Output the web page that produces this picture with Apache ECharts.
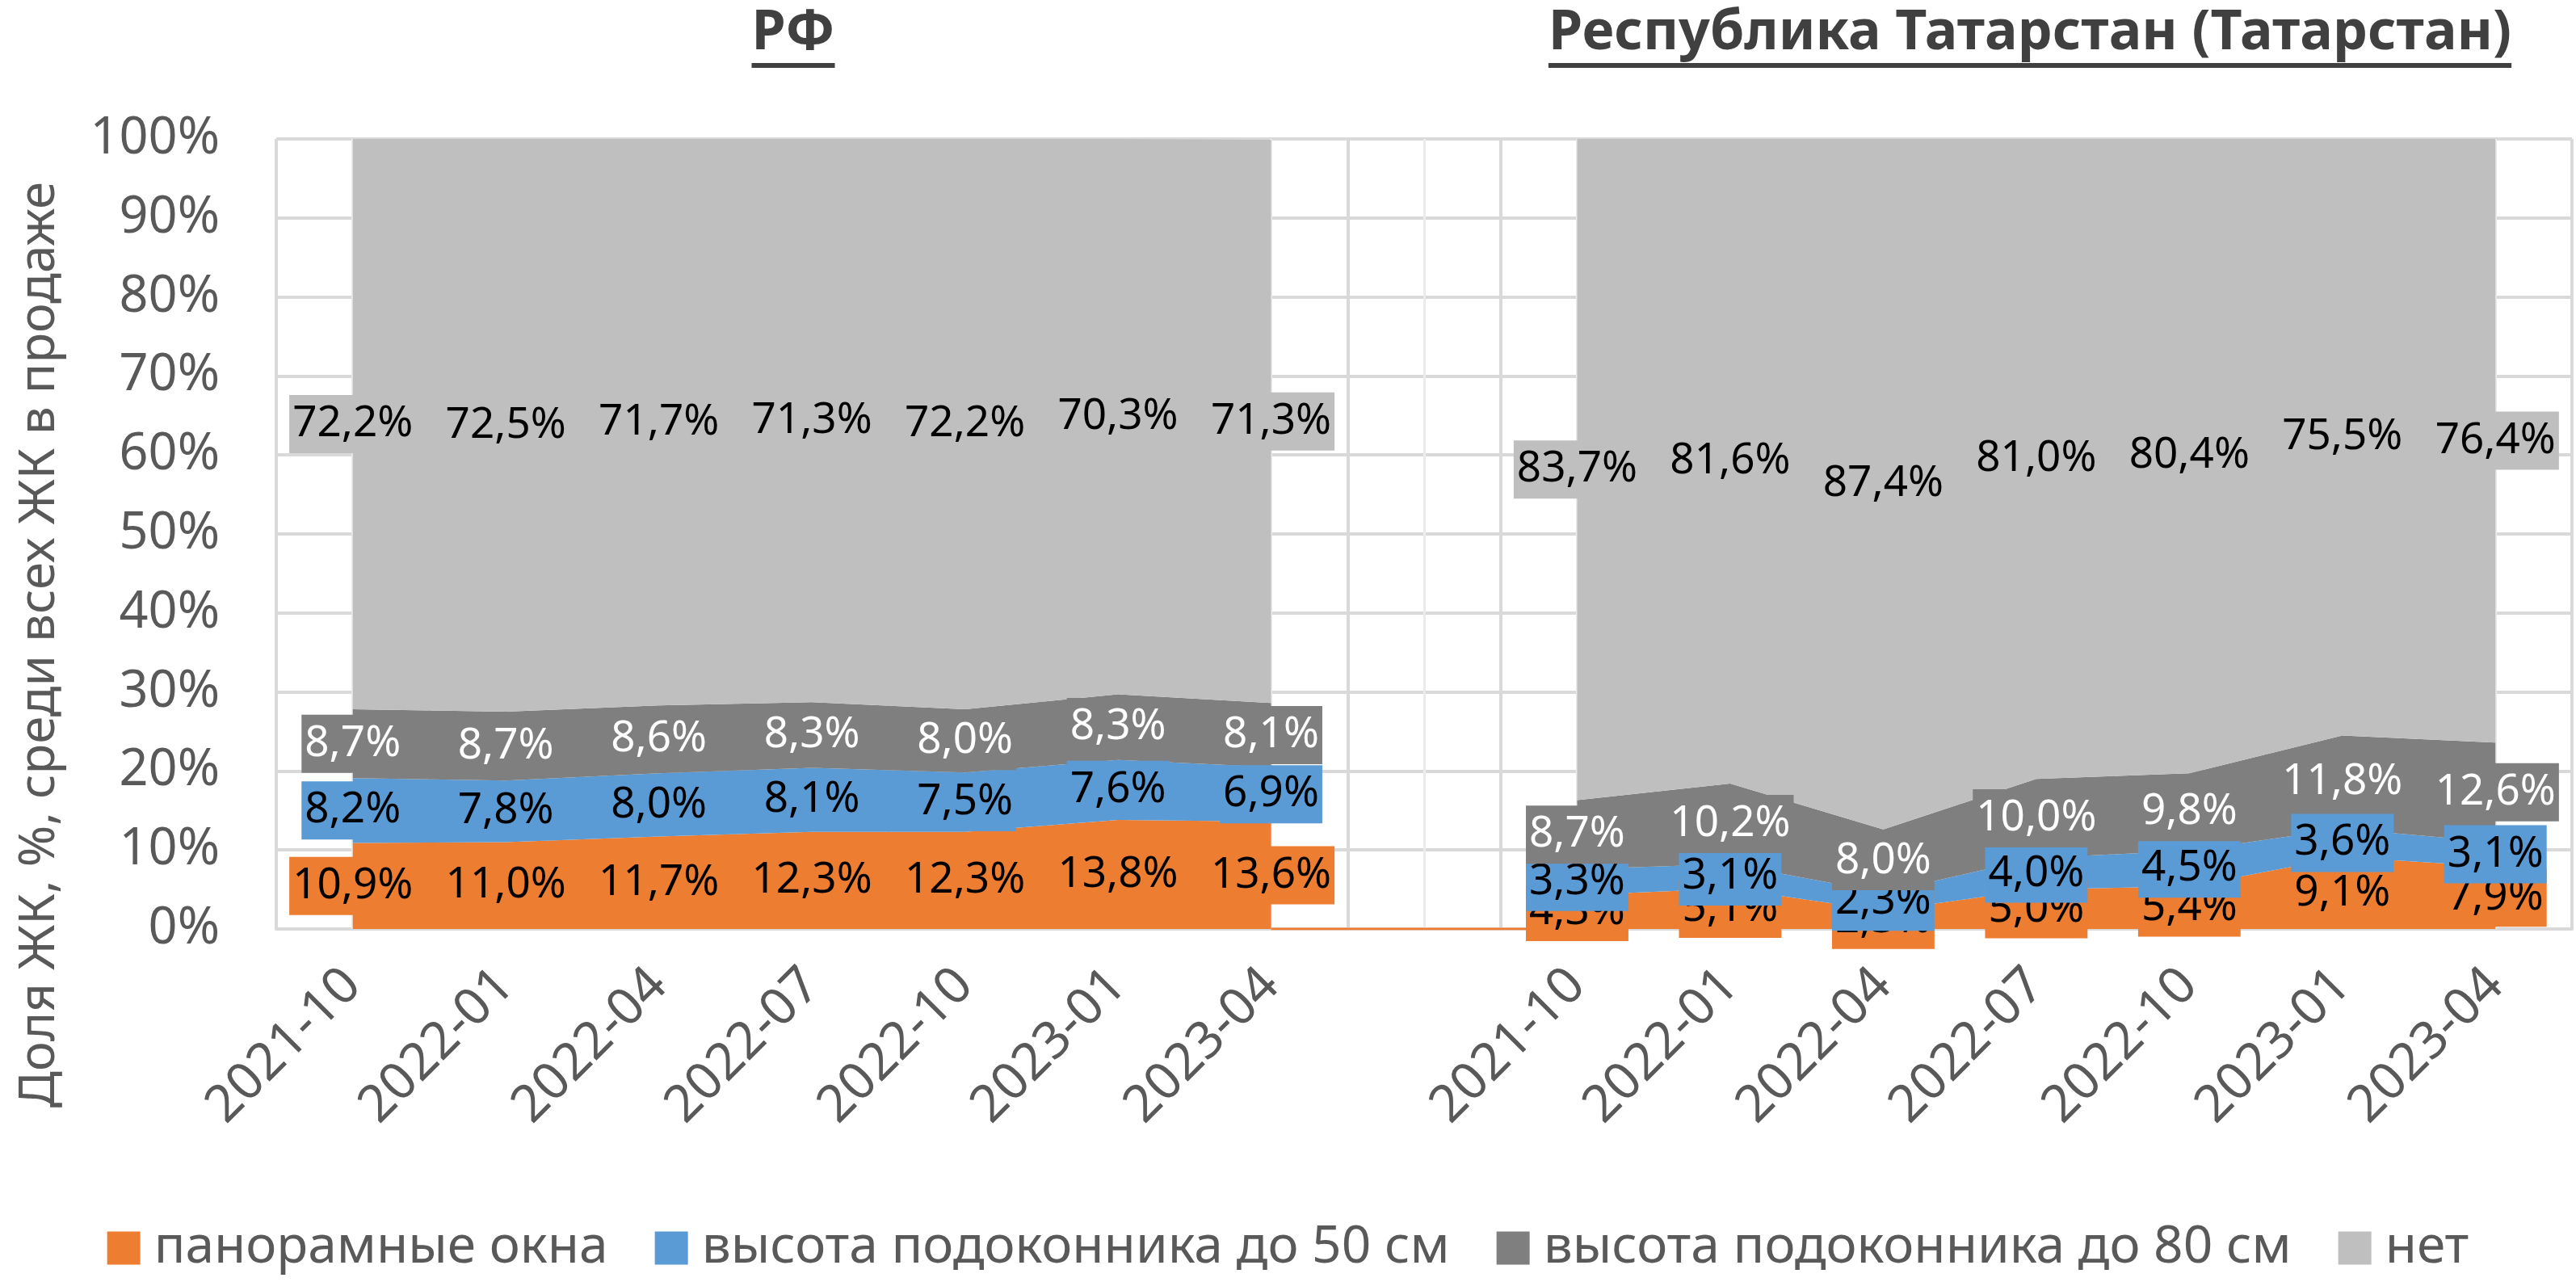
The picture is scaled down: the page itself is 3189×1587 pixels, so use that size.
<!DOCTYPE html>
<html>
<head>
<meta charset="utf-8">
<title>Доля ЖК по типу окон</title>
<script src="https://cdn.jsdelivr.net/npm/echarts@6/dist/echarts.min.js"></script>
<style>
  html, body { margin: 0; padding: 0; background: #ffffff; }
  #chart { width: 3189px; height: 1587px; }
</style>
</head>
<body>
<div id="chart"></div>
<script>
// Quarterly periods shown for each region
const periods = ['2021-10', '2022-01', '2022-04', '2022-07', '2022-10', '2023-01', '2023-04'];
const regionTitles = ['РФ', 'Республика Татарстан (Татарстан)'];
const seriesNames = ['панорамные окна', 'высота подоконника до 50 см', 'высота подоконника до 80 см', 'нет'];
const yAxisTitle = 'Доля ЖК, %, среди всех ЖК в продаже';

// Shares of residential complexes, % (Russia)
const rfPanoramic = [10.9, 11.0, 11.7, 12.3, 12.3, 13.8, 13.6];
const rfSill50    = [8.2, 7.8, 8.0, 8.1, 7.5, 7.6, 6.9];
const rfSill80    = [8.7, 8.7, 8.6, 8.3, 8.0, 8.3, 8.1];
const rfNone      = [72.2, 72.5, 71.7, 71.3, 72.2, 70.3, 71.3];

// Shares of residential complexes, % (Tatarstan)
const tatPanoramic = [4.3, 5.1, 2.3, 5.0, 5.4, 9.1, 7.9];
const tatSill50    = [3.3, 3.1, 2.3, 4.0, 4.5, 3.6, 3.1];
const tatSill80    = [8.7, 10.2, 8.0, 10.0, 9.8, 11.8, 12.6];
const tatNone      = [83.7, 81.6, 87.4, 81.0, 80.4, 75.5, 76.4];

// Value that both blocks drop to in the empty column between them
const gapValue = 0;

const COLORS = ['#ED7D31', '#5B9BD5', '#7F7F7F', '#BFBFBF'];
const LABEL_TEXT = ['#000000', '#000000', '#FFFFFF', '#000000'];
const FONT = '"Noto Sans", "DejaVu Sans", sans-serif';

// One empty column separates the two regions
const categories = [...periods, '', ...periods];
const join = (a, b) => [...a, null, ...b];
const stacks = [
  join(rfPanoramic, tatPanoramic),
  join(rfSill50, tatSill50),
  join(rfSill80, tatSill80),
  join(rfNone, tatNone)
];

const fmt = v => v.toFixed(1).replace('.', ',') + '%';

const series = [];

// Light vertical guides through each category centre (kept beneath the areas)
series.push({
  type: 'line',
  data: [],
  z: 1,
  silent: true,
  markLine: {
    z: 1,
    silent: true,
    symbol: 'none',
    label: { show: false },
    lineStyle: { color: '#EBEBEB', width: 3, type: 'solid' },
    data: categories.map((_, i) => ({ xAxis: i })),
    animation: false
  }
});

// Baseline joining the two blocks through the empty column
series.push({
  type: 'line',
  data: categories.map((_, i) => (i >= periods.length - 1 && i <= periods.length + 1) ? gapValue : null),
  symbol: 'none',
  lineStyle: { color: COLORS[0], width: 3 },
  z: 1,
  silent: true
});

// Stacked areas
stacks.forEach((vals, k) => {
  series.push({
    name: seriesNames[k],
    type: 'line',
    stack: 'share',
    data: vals,
    symbol: 'none',
    connectNulls: false,
    lineStyle: { width: 0 },
    itemStyle: { color: COLORS[k] },
    areaStyle: { color: COLORS[k], opacity: 1 },
    z: 2,
    silent: true
  });
});

// Value labels placed at the middle of each stacked band
stacks.forEach((vals, k) => {
  const data = vals.map((v, i) => {
    if (v == null) return null;
    let base = 0;
    for (let j = 0; j < k; j++) base += stacks[j][i];
    return [i, base + v / 2, v];
  });
  series.push({
    type: 'scatter',
    data: data,
    symbolSize: 1,
    itemStyle: { color: 'transparent', opacity: 1 },
    z: 10 + k,
    silent: true,
    label: {
      show: true,
      position: 'inside',
      formatter: p => fmt(p.value[2]),
      color: LABEL_TEXT[k],
      backgroundColor: COLORS[k],
      opacity: 1,
      fontFamily: FONT,
      fontSize: 53,
      lineHeight: 58,
      padding: [7, 4]
    }
  });
});

const chart = echarts.init(document.getElementById('chart'), null, { renderer: 'canvas' });

// Width of a title, for its underline
const measure = (text, font) => {
  const ctx = document.createElement('canvas').getContext('2d');
  ctx.font = font;
  return ctx.measureText(text).width;
};
const TITLE_FONT = 'bold 68px ' + FONT;
const titleCentres = [982, 2513];
const titleGraphics = [];
regionTitles.forEach((t, i) => {
  const w = measure(t, TITLE_FONT);
  titleGraphics.push({
    type: 'text',
    x: titleCentres[i],
    y: 8,
    style: { text: t, font: TITLE_FONT, fill: '#404040', align: 'center', verticalAlign: 'top' }
  });
  titleGraphics.push({
    type: 'rect',
    shape: { x: titleCentres[i] - w / 2, y: 78, width: w, height: 6 },
    style: { fill: '#404040' }
  });
});
titleGraphics.push({
  type: 'text',
  x: 49,
  y: 798,
  rotation: Math.PI / 2,
  style: {
    text: yAxisTitle,
    font: '62px ' + FONT,
    fill: '#595959',
    align: 'center',
    verticalAlign: 'middle'
  }
});

chart.setOption({
  animation: false,
  backgroundColor: '#ffffff',
  color: COLORS,
  grid: { left: 342, right: 5, top: 172, bottom: 437, containLabel: false },
  legend: {
    data: seriesNames,
    left: 'center',
    top: 1508,
    icon: 'rect',
    itemWidth: 41,
    itemHeight: 41,
    itemGap: 58,
    textStyle: { fontFamily: FONT, fontSize: 64, color: '#595959', padding: [0, 0, 0, 12] },
    selectedMode: false
  },
  xAxis: {
    type: 'category',
    data: categories,
    boundaryGap: true,
    axisTick: { show: false },
    axisLine: { show: true, lineStyle: { color: '#D9D9D9', width: 4 } },
    axisLabel: {
      interval: 0,
      rotate: 45,
      margin: 60,
      fontFamily: FONT,
      fontSize: 64,
      color: '#595959'
    },
    splitLine: { show: true, interval: 0, lineStyle: { color: '#D9D9D9', width: 4 } }
  },
  yAxis: {
    type: 'value',
    min: 0,
    max: 100,
    interval: 10,
    axisLine: { show: false },
    axisTick: { show: false },
    axisLabel: {
      formatter: '{value}%',
      margin: 70,
      fontFamily: FONT,
      fontSize: 63,
      color: '#595959'
    },
    splitLine: { show: true, lineStyle: { color: '#D9D9D9', width: 4 } }
  },
  graphic: titleGraphics,
  series: series
});
</script>
</body>
</html>
